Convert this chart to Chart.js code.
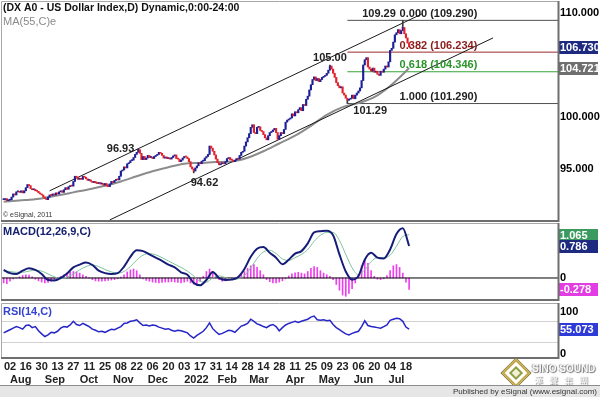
<!doctype html>
<html>
<head>
  <title>US Dollar Index</title>
  <script src="https://cdn.jsdelivr.net/npm/chart.js@4.4.0/dist/chart.umd.min.js"></script>
  <style>
    body { margin: 0; background: #fff; font-family: "Liberation Sans", Arial, sans-serif; }
    #wrap { position: relative; width: 600px; height: 397px; overflow: hidden; background: #fff; }
    .pane { position: absolute; left: 0; width: 600px; }
    #footer {
      position: absolute; left: 0; top: 385px; width: 600px; height: 12px;
      background: #e6e6e6; border-top: 1px solid #8c8c8c;
      font-size: 8px; line-height: 11px; color: #333; text-align: right;
    }
    #footer span { padding-right: 3px; }
    #logo { position: absolute; left: 503px; top: 360px; width: 95px; height: 25px; }
    #diamond {
      position: absolute; left: 3px; top: 3px; width: 16px; height: 16px;
      transform: rotate(45deg); background: #fff; border: 2px solid #c8a748;
      box-shadow: 0 0 0 1px #7b7b3a;
    }
    #diamond div { position: absolute; left: 3px; top: 3px; width: 6px; height: 6px; border: 2px solid #8fa043; background: #f3f0d8; }
    #brand1 { position: absolute; left: 29px; top: 3px; font-size: 10px; font-weight: bold; color: #fafafa; text-shadow: 1px 1px 1px #777, -1px 0 1px #999; }
    #brand2 { position: absolute; left: 31px; top: 14px; font-size: 9px; color: #fafafa; text-shadow: 1px 1px 1px #777; letter-spacing: 6px; font-family: "Noto Sans CJK TC", sans-serif; }
  </style>
</head>
<body>
<div id="wrap">
  <div class="pane" style="top:1px;height:221px"><canvas id="price"></canvas></div>
  <div class="pane" style="top:223px;height:78px"><canvas id="macd"></canvas></div>
  <div class="pane" style="top:303px;height:82px"><canvas id="rsi"></canvas></div>
  <div id="logo"><div id="diamond"><div></div></div><div id="brand1">SINO SOUND</div><div id="brand2">漢聲集團</div></div>
  <div id="footer"><span>Published by eSignal (www.esignal.com)</span></div>
</div>

<script>
  // ---- price: one close per trading day, first bar is index -4 (27 Jul 2021) ----
  var firstBar = -4;
  var closes = [
    92.05, 92.15, 91.95, 92.0,
    92.05, 92.3, 92.6, 92.5, 92.8, 92.85, 92.75, 92.9, 92.7, 92.9,
    93.2, 93.5, 93.4, 93.1, 93.0, 93.05, 92.9, 92.85, 92.7, 92.6,
    92.5, 92.3, 92.15, 92.05, 92.3, 92.5, 92.45, 92.6, 92.5, 92.7,
    92.6, 92.8, 92.9, 92.75, 93.0, 93.2, 93.05, 93.3, 93.4, 93.35,
    93.8, 94.3, 94.2, 94.0, 94.1, 94.0, 94.3, 94.2, 94.05, 93.9,
    93.95, 93.8, 93.7, 93.8, 93.65, 93.6, 93.7, 93.55, 93.6, 93.45,
    93.6, 93.35, 93.3, 93.55, 93.8, 93.7, 93.9, 94.0, 93.95, 94.3,
    94.8, 94.9, 95.2, 95.1, 95.5, 95.6, 95.8, 95.85, 96.1, 96.4,
    96.6, 96.85, 96.5, 95.9, 96.2, 95.9, 96.05, 96.3, 96.1, 96.15,
    96.0, 96.2, 96.3, 96.4, 96.6, 96.5, 96.3, 96.05, 96.15, 96.0,
    96.05, 95.95, 96.1, 96.25, 96.35, 96.0, 95.95, 95.7, 95.85, 96.05,
    96.2, 96.15, 96.0, 95.7, 95.2, 95.0, 94.8, 95.1, 95.3, 95.6,
    95.5, 95.75, 95.8, 96.05, 96.2, 96.4, 97.2, 97.0, 96.7, 96.35,
    95.95, 95.6, 95.4, 95.5, 95.6, 95.5, 95.7, 96.0, 96.1, 95.9,
    95.85, 95.7, 95.85, 96.0, 95.95, 96.3, 96.6, 96.7, 97.2, 97.6,
    98.0, 98.4, 99.0, 99.25, 98.5, 98.4, 99.0, 99.05, 98.7, 98.6,
    98.3, 98.0, 97.8, 98.2, 98.5, 98.6, 98.75, 98.9, 98.5, 97.85,
    98.2, 98.5, 98.4, 98.8, 99.5, 99.7, 99.8, 99.9, 100.3, 100.1,
    100.5, 100.4, 100.7, 100.9, 100.6, 101.2, 101.1, 101.7, 102.0, 102.6,
    103.1, 103.6, 103.85, 103.5, 103.7, 103.4, 103.6, 103.8, 103.9, 104.0,
    104.2, 104.5, 104.9, 104.6, 104.2, 103.8, 103.3, 103.0, 102.8, 102.9,
    102.3, 102.1, 101.8, 101.6, 101.7, 101.8, 102.1, 101.75, 102.1, 102.3,
    102.5, 102.8, 103.5, 105.0, 105.5, 105.7, 104.8, 104.6, 104.4, 104.7,
    104.3, 104.4, 104.1, 104.0, 104.4, 104.3, 104.6, 104.9, 104.8, 105.3,
    106.4, 106.6, 107.2, 107.9, 108.1, 108.4, 108.0, 108.3, 108.6, 108.0,
    107.6, 107.1, 106.73
  ];
  var pivotIdx = [81, 116, 202, 213, 248];
  var pivotVal = [96.93, 94.62, 105.00, 101.29, 109.29];

  var maIdx = [-4, 0, 10, 20, 30, 40, 50, 60, 70, 80, 90, 100, 110, 120, 130,
               140, 150, 160, 170, 180, 190, 200, 210, 220, 230, 240, 250, 252];
  var maVals = [91.85, 91.9, 92.02, 92.17, 92.45, 92.75, 93.05, 93.38, 93.8, 94.3,
                94.78, 95.17, 95.5, 95.58, 95.66, 95.72, 96.08, 96.7, 97.45, 98.2,
                99.15, 100.2, 100.95, 101.33, 101.9, 102.98, 104.4, 104.721];

  var upperIdx = [25, 260], upperVals = [92.9, 109.9];
  var lowerIdx = [63, 305], lowerVals = [90.1, 107.6];

  var fibFrom = 213;
  var fibRatios = ['0.000', '0.382', '0.618', '1.000'];
  var fibLevels = [109.29, 106.234, 104.346, 101.29];
  var lastMa = 104.721;

  // ---- MACD(12,26,9): lines every 4 days, histogram every 2 days, from index -4 ----
  var macdVals = [
    0.20, 0.12, 0.10, 0.18, 0.24, 0.20, 0.10, -0.05, -0.06, 0.00,
    0.11, 0.26, 0.33, 0.38, 0.32, 0.18, 0.12, 0.10, 0.12, 0.28,
    0.52, 0.68, 0.66, 0.58, 0.50, 0.42, 0.33, 0.26, 0.14, 0.08,
    -0.12, -0.18, -0.05, 0.15, 0.00, -0.05, -0.04, 0.02, 0.22, 0.52,
    0.72, 0.76, 0.62, 0.50, 0.34, 0.45, 0.60, 0.66, 0.85, 1.12,
    1.15, 1.16, 1.05, 0.58, 0.16, -0.04, 0.05, 0.45, 0.62, 0.50,
    0.48, 0.70, 1.08, 1.22, 0.786
  ];
  var signalVals = [
    0.17, 0.16, 0.14, 0.14, 0.17, 0.19, 0.17, 0.10, 0.03, -0.01,
    0.02, 0.10, 0.20, 0.28, 0.32, 0.28, 0.21, 0.15, 0.12, 0.16,
    0.28, 0.44, 0.56, 0.60, 0.57, 0.50, 0.42, 0.34, 0.26, 0.17,
    0.05, -0.08, -0.10, 0.00, 0.05, 0.01, -0.03, -0.02, 0.06, 0.25,
    0.48, 0.64, 0.68, 0.60, 0.47, 0.43, 0.50, 0.58, 0.70, 0.90,
    1.05, 1.12, 1.12, 0.92, 0.58, 0.25, 0.08, 0.20, 0.40, 0.50,
    0.50, 0.56, 0.78, 1.02, 1.065
  ];
  var histVals = [
    -0.12, -0.14, -0.08, -0.02, 0.00, 0.03, 0.06, 0.08, 0.07, 0.03,
    -0.03, -0.07, -0.10, -0.12, -0.11, -0.08, -0.04, 0.00, 0.04, 0.08,
    0.12, 0.15, 0.16, 0.15, 0.12, 0.08, 0.04, -0.01, -0.04, -0.07,
    -0.08, -0.08, -0.07, -0.06, -0.05, -0.04, -0.02, 0.02, 0.08, 0.15,
    0.20, 0.22, 0.18, 0.08, -0.02, -0.06, -0.08, -0.10, -0.11, -0.12,
    -0.11, -0.10, -0.10, -0.09, -0.10, -0.11, -0.12, -0.10, -0.08, -0.12,
    -0.15, -0.14, -0.08, 0.04, 0.16, 0.22, 0.15, 0.04, -0.04, -0.08,
    -0.07, -0.05, -0.03, 0.00, 0.04, 0.10, 0.16, 0.24, 0.30, 0.33,
    0.26, 0.18, 0.08, -0.04, -0.09, -0.12, -0.12, -0.10, -0.07, -0.02,
    0.05, 0.10, 0.13, 0.14, 0.12, 0.10, 0.16, 0.24, 0.28, 0.26,
    0.18, 0.12, 0.08, 0.04, -0.04, -0.16, -0.30, -0.42, -0.45, -0.38,
    -0.26, -0.12, 0.08, 0.30, 0.45, 0.36, 0.18, 0.04, -0.03, -0.04,
    -0.02, 0.06, 0.18, 0.30, 0.33, 0.26, 0.12, -0.10, -0.278
  ];

  // ---- RSI(14), every 2 days from index -4 ----
  var rsiVals = [
    48, 51, 54, 57, 60, 58, 55, 62, 63, 58,
    60, 52, 46, 41, 44, 49, 48, 51, 57, 60,
    59, 63, 70, 64, 62, 66, 63, 60, 55, 53,
    50, 51, 49, 52, 55, 54, 57, 60, 66, 67,
    70, 71, 73, 67, 62, 63, 61, 63, 62, 59,
    57, 55, 56, 53, 51, 53, 52, 50, 48, 42,
    38, 43, 47, 51, 58, 67, 56, 50, 45, 47,
    50, 53, 52, 49, 55, 61, 63, 66, 74, 70,
    65, 63, 60, 58, 62, 64, 60, 52, 58, 63,
    66, 68, 70, 68, 70, 72, 74, 78, 80, 73,
    72, 73, 71, 72, 64, 58, 54, 50, 46, 44,
    47, 49, 51, 60, 71, 62, 60, 59, 58, 57,
    60, 63, 72, 74, 76, 75, 70, 59, 55.073
  ];

  // ---- time axis ----
  var dayTicks = [0, 10, 20, 30, 40, 50, 60, 70, 80, 90, 100, 110, 120, 130,
                  140, 150, 160, 170, 180, 190, 200, 210, 220, 230, 240, 250];
  var dayLabels = ['02', '16', '30', '13', '27', '11', '25', '08', '22', '06', '20', '03', '17',
                   '31', '14', '28', '14', '28', '11', '25', '09', '23', '06', '20', '04', '18'];
  var monthTicks = [0, 22, 44, 65, 87, 110, 131, 151, 174, 195, 217, 239];
  var monthLabels = ['Aug', 'Sep', 'Oct', 'Nov', 'Dec', '2022', 'Feb', 'Mar', 'Apr', 'May', 'Jun', 'Jul'];

  var X_MIN = -5.05, X_MAX = 346;
  var FONT = '"Liberation Sans", Arial, sans-serif';
  var UP = '#1c1f96', DOWN = '#e3212b';

  Chart.defaults.font.family = FONT;
  Chart.defaults.font.size = 11;
  Chart.defaults.color = '#000';
  Chart.defaults.animation = false;
  Chart.defaults.plugins.legend.display = false;
  Chart.defaults.plugins.tooltip.enabled = false;
  Chart.defaults.elements.point.radius = 0;

  function series(start, step, vals) {
    return vals.map(function (v, k) { return { x: start + k * step, y: v }; });
  }
  function pairs(xs, ys) {
    return xs.map(function (x, k) { return { x: x, y: ys[k] }; });
  }
  function hiddenX() {
    return { type: 'linear', min: X_MIN, max: X_MAX, offset: false, display: false };
  }
  function rightAxis(min, max, ticks, extra) {
    var ax = {
      position: 'right', min: min, max: max,
      grid: { display: false, drawTicks: false }, border: { display: false },
      ticks: { padding: 2, font: { weight: 'bold', size: 11 }, color: '#000' },
      afterBuildTicks: function (s) { s.ticks = ticks.map(function (v) { return { value: v }; }); },
      afterFit: function (s) { s.width = 42; s.paddingTop = 0; s.paddingBottom = 0; }
    };
    return Object.assign(ax, extra || {});
  }
  function frame(ctx, a, h) {
    ctx.save();
    ctx.strokeStyle = '#a8a8a8'; ctx.lineWidth = 1;
    ctx.beginPath();
    ctx.moveTo(1.5, h); ctx.lineTo(1.5, 0.5); ctx.lineTo(a.right, 0.5);
    ctx.stroke();
    ctx.strokeStyle = '#6e6e6e'; ctx.lineWidth = 2;
    ctx.beginPath();
    ctx.moveTo(a.right + 0.5, 0); ctx.lineTo(a.right + 0.5, h - 1); ctx.lineTo(1, h - 1);
    ctx.stroke();
    ctx.restore();
  }
  function tag(ctx, chart, scale, value, text, bg) {
    var y = scale.getPixelForValue(value), x = chart.chartArea.right + 1;
    ctx.fillStyle = bg;
    ctx.fillRect(x, Math.round(y) - 6, 39, 13);
    ctx.fillStyle = '#fff';
    ctx.font = 'bold 11px ' + FONT;
    ctx.textAlign = 'left'; ctx.textBaseline = 'middle';
    ctx.fillText(text, x + 1, Math.round(y) + 1);
  }

  // ---------- price panel ----------
  var bodies = closes.map(function (c, k) {
    return { x: firstBar + k, y: [k ? closes[k - 1] : c, c] };
  });
  var bodyColors = closes.map(function (c, k) { return k && c < closes[k - 1] ? DOWN : UP; });
  var wicks = pivotIdx.map(function (i, k) {
    return { x: i, y: [closes[i - firstBar], pivotVal[k]] };
  });
  var fibSets = fibLevels.map(function (v, k) {
    return {
      type: 'line', data: [{ x: fibFrom, y: v }, { x: X_MAX, y: v }],
      borderColor: ['#505050', '#9a2a2a', '#36a336', '#505050'][k], borderWidth: 1, order: 5
    };
  });

  var priceNotes = {
    id: 'priceNotes',
    afterDraw: function (chart) {
      var ctx = chart.ctx, xs = chart.scales.x, ys = chart.scales.y;
      var px = function (i) { return xs.getPixelForValue(i); };
      var py = function (v) { return ys.getPixelForValue(v); };
      ctx.save();
      ctx.font = 'bold 10.5px ' + FONT;
      ctx.fillStyle = '#111';
      ctx.textAlign = 'left'; ctx.textBaseline = 'middle';
      ctx.fillText('(DX A0 - US Dollar Index,D) Dynamic,0:00-24:00', 3, 7);
      ctx.font = '11px ' + FONT; ctx.fillStyle = '#8a8a8a';
      ctx.fillText('MA(55,C)e', 3, 21);
      ctx.font = '7px ' + FONT; ctx.fillStyle = '#333';
      ctx.fillText('\u00a9 eSignal, 2011', 3, 214);

      // fibonacci labels
      ctx.font = 'bold 11px ' + FONT; ctx.textBaseline = 'bottom';
      var fibText = ['#222', '#8b1c1c', '#2a962a', '#222'];
      fibLevels.forEach(function (v, k) {
        ctx.fillStyle = fibText[k];
        ctx.fillText(fibRatios[k] + ' (' + v.toFixed(3) + ')', px(246), py(v) - 1);
      });

      // swing labels
      ctx.fillStyle = '#222';
      pivotIdx.forEach(function (i, k) {
        var t = pivotVal[k].toFixed(2), x = px(i), y = py(pivotVal[k]);
        if (k === 0) { ctx.textAlign = 'right'; ctx.textBaseline = 'middle'; ctx.fillText(t, x - 4, y); }
        if (k === 1) { ctx.textAlign = 'left'; ctx.textBaseline = 'top'; ctx.fillText(t, x - 3, y + 5); }
        if (k === 2) { ctx.textAlign = 'center'; ctx.textBaseline = 'bottom'; ctx.fillText(t, x, y - 1); }
        if (k === 3) { ctx.textAlign = 'left'; ctx.textBaseline = 'top'; ctx.fillText(t, x + 6, y + 2); }
        if (k === 4) { ctx.textAlign = 'right'; ctx.textBaseline = 'bottom'; ctx.fillText(t, x - 7, y - 1); }
      });

      tag(ctx, chart, ys, closes[closes.length - 1], closes[closes.length - 1].toFixed(3), '#1d2a80');
      tag(ctx, chart, ys, lastMa, lastMa.toFixed(3), '#6f6f6f');
      frame(ctx, chart.chartArea, chart.height);
      ctx.restore();
    }
  };

  new Chart(document.getElementById('price'), {
    type: 'bar',
    data: {
      datasets: [
        { data: bodies, backgroundColor: bodyColors, barThickness: 1.5, minBarLength: 1, grouped: false, order: 1 },
        { data: wicks, backgroundColor: '#3a3a3a', barThickness: 1, grouped: false, order: 2 },
        { type: 'line', data: pairs(maIdx, maVals), borderColor: '#8c8c8c', borderWidth: 2,
          cubicInterpolationMode: 'monotone', order: 4 },
        { type: 'line', data: pairs(upperIdx, upperVals), borderColor: '#1a1a1a', borderWidth: 1, order: 3 },
        { type: 'line', data: pairs(lowerIdx, lowerVals), borderColor: '#1a1a1a', borderWidth: 1, order: 3 }
      ].concat(fibSets)
    },
    options: {
      responsive: true, maintainAspectRatio: false,
      layout: { padding: { left: 2, right: 0, top: 0, bottom: 0 } },
      scales: {
        x: hiddenX(),
        y: rightAxis(89.9, 111.15, [95, 100, 110], { ticks: { padding: 2, font: { weight: 'bold', size: 11 }, color: '#000',
          callback: function (v) { return v.toFixed(3); } } })
      }
    },
    plugins: [priceNotes]
  });

  // ---------- MACD panel ----------
  var macdNotes = {
    id: 'macdNotes',
    afterDraw: function (chart) {
      var ctx = chart.ctx, ys = chart.scales.y;
      ctx.save();
      ctx.font = 'bold 11px ' + FONT; ctx.fillStyle = '#17206e';
      ctx.textAlign = 'left'; ctx.textBaseline = 'middle';
      ctx.fillText('MACD(12,26,9,C)', 3, 9);
      tag(ctx, chart, ys, signalVals[signalVals.length - 1], signalVals[signalVals.length - 1].toFixed(3), '#3b9a60');
      tag(ctx, chart, ys, macdVals[macdVals.length - 1], macdVals[macdVals.length - 1].toFixed(3), '#1d2a80');
      tag(ctx, chart, ys, histVals[histVals.length - 1], histVals[histVals.length - 1].toFixed(3), '#e23de2');
      frame(ctx, chart.chartArea, chart.height);
      ctx.restore();
    }
  };

  new Chart(document.getElementById('macd'), {
    type: 'bar',
    data: {
      datasets: [
        { type: 'line', data: series(firstBar, 4, macdVals), borderColor: '#161d78', borderWidth: 2,
          cubicInterpolationMode: 'monotone', order: 1 },
        { type: 'line', data: series(firstBar, 4, signalVals), borderColor: '#7cc39c', borderWidth: 1,
          cubicInterpolationMode: 'monotone', order: 2 },
        { type: 'line', data: [{ x: X_MIN, y: 0 }, { x: X_MAX, y: 0 }], borderColor: '#000', borderWidth: 1, order: 3 },
        { data: series(firstBar, 2, histVals), backgroundColor: '#ee3fee', barThickness: 1, grouped: false, order: 4 }
      ]
    },
    options: {
      responsive: true, maintainAspectRatio: false,
      layout: { padding: { left: 2, right: 0, top: 0, bottom: 0 } },
      scales: {
        x: hiddenX(),
        y: rightAxis(-0.565, 1.351, [0])
      }
    },
    plugins: [macdNotes]
  });

  // ---------- RSI panel + time axis ----------
  var rsiNotes = {
    id: 'rsiNotes',
    afterDraw: function (chart) {
      var ctx = chart.ctx, ys = chart.scales.y, a = chart.chartArea;
      ctx.save();
      ctx.font = 'bold 11px ' + FONT; ctx.fillStyle = '#3444d0';
      ctx.textAlign = 'left'; ctx.textBaseline = 'middle';
      ctx.fillText('RSI(14,C)', 3, 9);
      ctx.fillStyle = '#000';
      ctx.textBaseline = 'top';
      ctx.fillText('100', a.right + 2, ys.getPixelForValue(100) + 1);
      ctx.textBaseline = 'bottom';
      ctx.fillText('0', a.right + 2, ys.getPixelForValue(0) + 1);
      tag(ctx, chart, ys, rsiVals[rsiVals.length - 1], rsiVals[rsiVals.length - 1].toFixed(3), '#2f3bd6');
      frame(ctx, a, a.bottom + 1);
      ctx.restore();
    }
  };

  new Chart(document.getElementById('rsi'), {
    type: 'line',
    data: {
      datasets: [
        { data: series(firstBar, 2, rsiVals), borderColor: '#2626c8', borderWidth: 1.5, tension: 0 }
      ]
    },
    options: {
      responsive: true, maintainAspectRatio: false,
      layout: { padding: { left: 2, right: 0, top: 0, bottom: 0 } },
      scales: {
        x: {
          type: 'linear', min: X_MIN, max: X_MAX, offset: false, weight: 0,
          grid: { display: false, drawTicks: false }, border: { display: false },
          ticks: { autoSkip: false, maxRotation: 0, padding: 2, font: { weight: 'bold', size: 11 }, color: '#222',
            callback: function (v, k) { return dayLabels[k]; } },
          afterBuildTicks: function (s) { s.ticks = dayTicks.map(function (v) { return { value: v }; }); },
          afterFit: function (s) { s.height = 13; s.paddingLeft = 0; s.paddingRight = 0; }
        },
        xm: {
          type: 'linear', position: 'bottom', min: X_MIN, max: X_MAX, offset: false, weight: 1,
          grid: { display: false, drawTicks: false }, border: { display: false },
          ticks: { autoSkip: false, maxRotation: 0, padding: 2, align: 'start', font: { weight: 'bold', size: 11 }, color: '#222',
            callback: function (v, k) { return monthLabels[k]; } },
          afterBuildTicks: function (s) { s.ticks = monthTicks.map(function (v) { return { value: v }; }); },
          afterFit: function (s) { s.height = 14; s.paddingLeft = 0; s.paddingRight = 0; }
        },
        y: rightAxis(0, 105, [30, 70], {
          grid: { display: true, drawTicks: false, color: '#d2d2d2', lineWidth: 1 },
          ticks: { display: false }
        })
      }
    },
    plugins: [rsiNotes]
  });
</script>
</body>
</html>
